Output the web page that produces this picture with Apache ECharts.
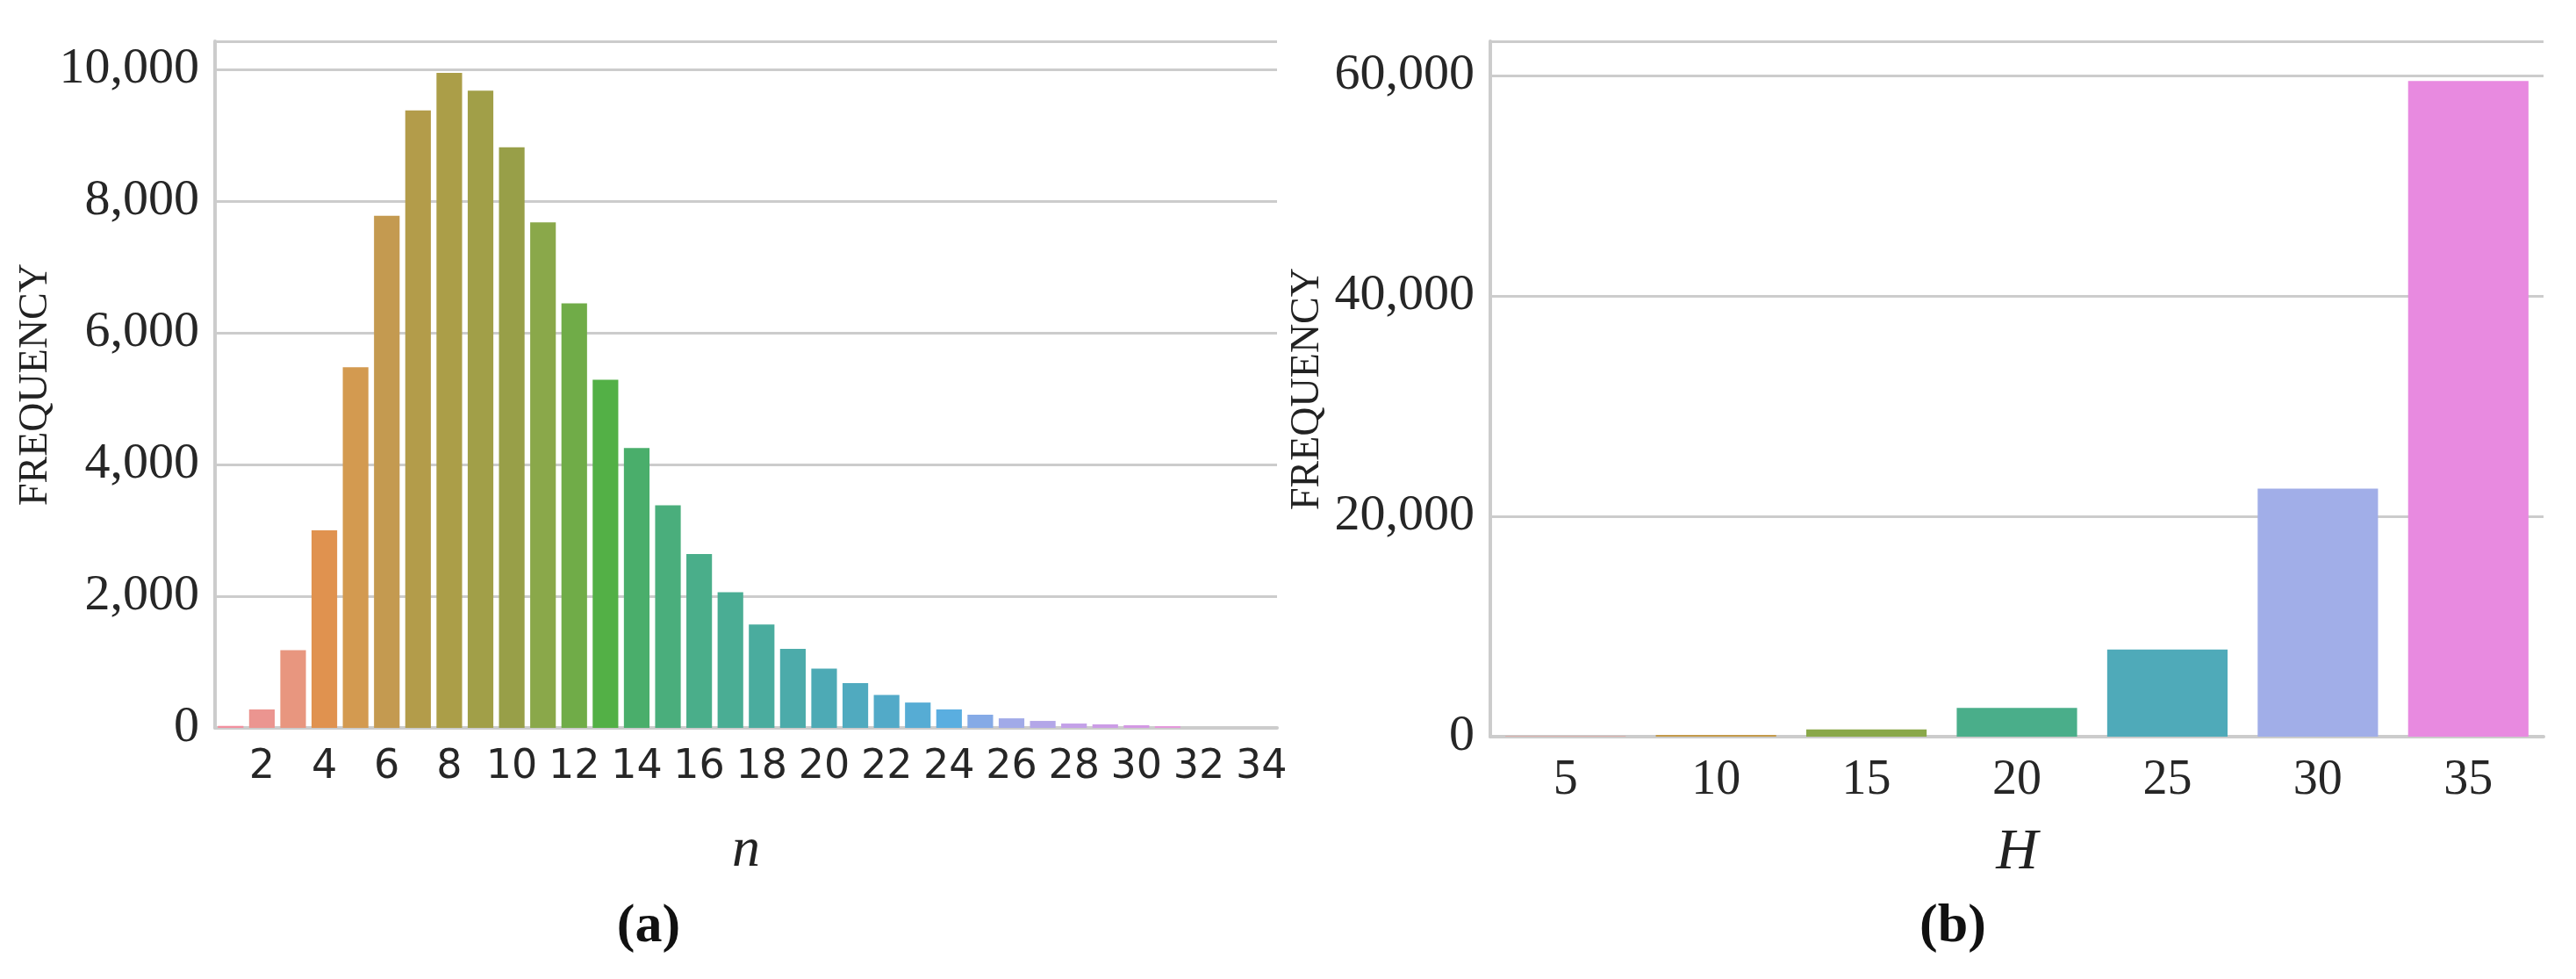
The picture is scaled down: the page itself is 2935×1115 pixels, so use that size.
<!DOCTYPE html>
<html>
<head>
<meta charset="utf-8">
<script src="https://cdn.jsdelivr.net/npm/echarts@6/dist/echarts.min.js"></script>
<style>html,body{margin:0;background:#fff}#main{width:2935px;height:1115px}</style>
</head>
<body>
<div id="main"></div>
<script>
// (a) frequency of n
var nCats = [];
for (var i = 1; i <= 34; i++) nCats.push(String(i));
var nFreq = [30, 280, 1180, 3000, 5480, 7780, 9380, 9950, 9680, 8820, 7680, 6450, 5290, 4250, 3380, 2640,
    2060, 1570, 1200, 900, 680, 500, 385, 280, 200, 145, 106, 66, 53, 40, 26, 0, 0, 0];
// (b) frequency of H
var hCats = ['5', '10', '15', '20', '25', '30', '35'];
var hFreq = [40, 150, 650, 2600, 7900, 22500, 59500];

var nColors = ['#f28f9e', '#eb9590', '#e8967f', '#e0924f', '#d39a50', '#c49a50', '#b39c4a', '#ab9e48',
    '#a19f48', '#989f48', '#8aa84a', '#70ac48', '#53b046', '#4aae6b', '#4aae7c', '#4aae8a', '#4aad94',
    '#4aac9e', '#4cabaa', '#4daab5', '#50aabf', '#52aac8', '#56acd4', '#5aaee0', '#85aae6', '#a1aae8',
    '#b3a6e8', '#c3a0e8', '#cb9ce6', '#d398e4', '#e596dc', '#e892de', '#e98edf', '#ea8ce0'];
var hColors = ['#e8928a', '#c49a4a', '#8aa84a', '#4aae8a', '#4faab9', '#a1aee8', '#e88ae0'];

var myChart = echarts.init(document.getElementById('main'));
var serif = 'Liberation Serif';
var option = {
    backgroundColor: '#fff',
    animation: false,
    title: [
        {text: '(a)', left: 734, top: 1020, textAlign: 'center', textStyle: {fontFamily: serif, fontSize: 62, fontWeight: 'bold', color: '#111'}},
        {text: '(b)', left: 2220, top: 1020, textAlign: 'center', textStyle: {fontFamily: serif, fontSize: 62, fontWeight: 'bold', color: '#111'}}
    ],
    grid: [
        {left: 245, top: 47, width: 1210, height: 782},
        {left: 1698, top: 47, width: 1200, height: 792}
    ],
    xAxis: [
        {
            gridIndex: 0, type: 'category', data: nCats,
            name: 'n', nameLocation: 'middle', nameGap: 108,
            nameTextStyle: {fontFamily: serif, fontStyle: 'italic', fontSize: 64, color: '#222'},
            axisLine: {lineStyle: {color: '#cccccc', width: 4}},
            axisTick: {show: false},
            axisLabel: {fontFamily: 'DejaVu Sans', fontSize: 46, color: '#262626', margin: 22,
                formatter: function (v) { return (+v) % 2 === 0 ? v : ''; }, interval: 0}
        },
        {
            gridIndex: 1, type: 'category', data: hCats,
            name: 'H', nameLocation: 'middle', nameGap: 100,
            nameTextStyle: {fontFamily: serif, fontStyle: 'italic', fontSize: 66, color: '#222'},
            axisLine: {lineStyle: {color: '#cccccc', width: 4}},
            axisTick: {show: false},
            axisLabel: {fontFamily: serif, fontSize: 56, color: '#262626', margin: 22}
        }
    ],
    yAxis: [
        {
            gridIndex: 0, type: 'value', min: 0, max: 10430, interval: 2000,
            name: 'FREQUENCY', nameLocation: 'middle', nameGap: 165,
            nameTextStyle: {fontFamily: serif, fontSize: 46, color: '#222'},
            axisLine: {show: true, lineStyle: {color: '#cccccc', width: 4}},
            axisTick: {show: false},
            axisLabel: {fontFamily: serif, fontSize: 58, color: '#262626', margin: 18, showMaxLabel: false},
            splitLine: {lineStyle: {color: '#cccccc', width: 3}}
        },
        {
            gridIndex: 1, type: 'value', min: 0, max: 63100, interval: 20000,
            name: 'FREQUENCY', nameLocation: 'middle', nameGap: 185,
            nameTextStyle: {fontFamily: serif, fontSize: 46, color: '#222'},
            axisLine: {show: true, lineStyle: {color: '#cccccc', width: 4}},
            axisTick: {show: false},
            axisLabel: {fontFamily: serif, fontSize: 58, color: '#262626', margin: 18, showMaxLabel: false},
            splitLine: {lineStyle: {color: '#cccccc', width: 3}}
        }
    ],
    series: [
        {
            type: 'bar', xAxisIndex: 0, yAxisIndex: 0, barCategoryGap: '18%',
            data: nFreq.map(function (v, i) { return {value: v, itemStyle: {color: nColors[i]}}; })
        },
        {
            type: 'bar', xAxisIndex: 1, yAxisIndex: 1, barCategoryGap: '20%',
            data: hFreq.map(function (v, i) { return {value: v, itemStyle: {color: hColors[i]}}; })
        }
    ]
};
myChart.setOption(option);
</script>
</body>
</html>
